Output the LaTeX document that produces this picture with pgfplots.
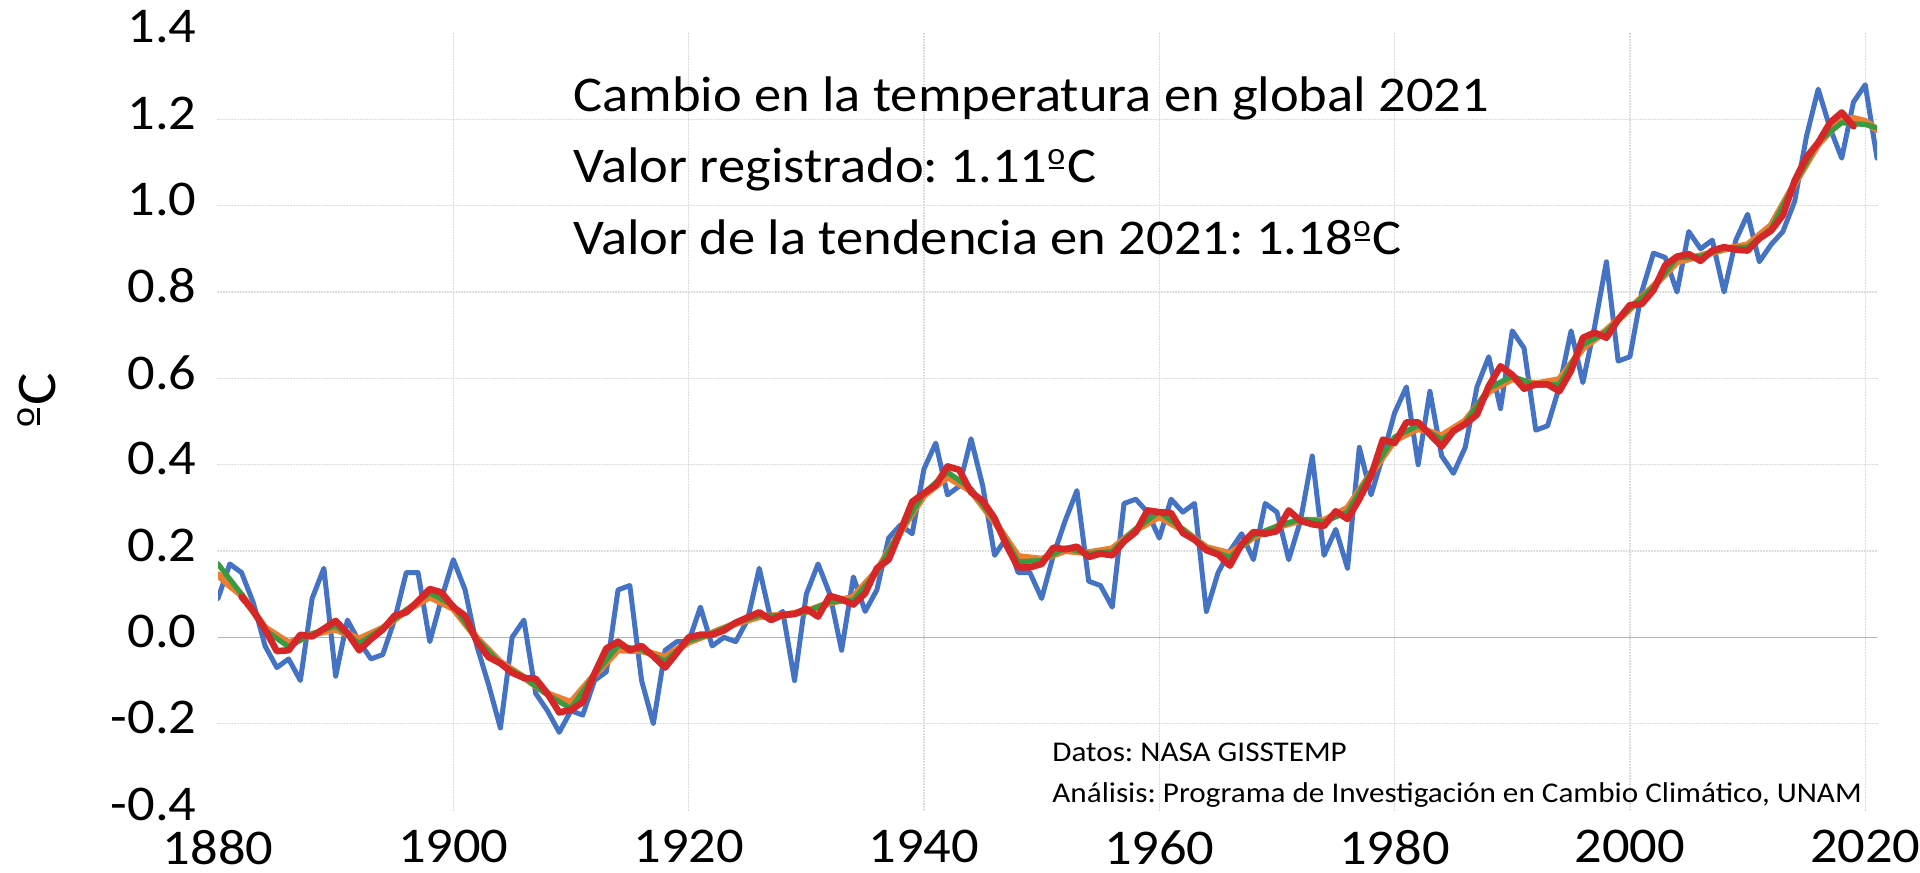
\documentclass[border=0pt]{standalone}
\usepackage{fontspec}
\setmainfont{Carlito}[FakeStretch=1.09]
\usepackage{pgfplots}
\pgfplotsset{compat=1.18}
\newcommand{\ord}{\mbox{\rlap{\kern0.04em\rule[0.27em]{0.3em}{0.055em}}\raisebox{0.37em}{\scalebox{0.62}{o}}\kern0.04em}}
\definecolor{cblue}{RGB}{68,114,196}
\definecolor{corange}{RGB}{237,125,49}
\definecolor{cgreen}{RGB}{58,154,64}
\definecolor{cred}{RGB}{214,38,40}
\definecolor{cgrid}{RGB}{215,215,215}
\definecolor{czero}{RGB}{182,176,192}
\frenchspacing
\begin{document}
\begin{tikzpicture}
\useasboundingbox (0,0) rectangle (960pt,436pt);
\begin{axis}[
  at={(109pt,31pt)}, anchor=south west,
  scale only axis, width=829.5pt, height=388.5pt,
  xmin=1880, xmax=2021, ymin=-0.4, ymax=1.4,
  axis line style={draw=none},
  major tick length=0pt,
  xtick={1880,1900,1920,1940,1960,1980,2000,2020},
  xticklabels={1880,1900,1920,1940,1960,1980,2000,2020},
  ytick={-0.4,-0.2,0,0.2,0.4,0.6,0.8,1.0,1.2,1.4},
  yticklabels={-0.4,-0.2,0.0,0.2,0.4,0.6,0.8,1.0,1.2,1.4},
  tick label style={font=\fontsize{25}{30}\selectfont},
  xticklabel style={anchor=north, inner sep=0pt, yshift=-10pt},
  yticklabel style={anchor=east, inner sep=0pt, xshift=-10.5pt, yshift=3pt},
  extra x ticks={1900,1920,1940,1960,1980,2000,2020},
  extra x tick labels={},
  extra y ticks={-0.2,0.2,0.4,0.6,0.8,1.0,1.2},
  extra y tick labels={},
  extra tick style={grid=major},
  major grid style={color=cgrid, densely dotted, line width=0.6pt},
  line join=round, line cap=round,
]
\draw[czero, line width=0.8pt] (axis cs:1880,0) -- (axis cs:2021,0);

\addplot[cblue, line width=2.5pt, no marks] coordinates {
(1880,0.09)(1881,0.17)(1882,0.15)(1883,0.08)(1884,-0.02)(1885,-0.07)(1886,-0.05)(1887,-0.10)(1888,0.09)(1889,0.16)
(1890,-0.09)(1891,0.04)(1892,-0.01)(1893,-0.05)(1894,-0.04)(1895,0.04)(1896,0.15)(1897,0.15)(1898,-0.01)(1899,0.09)
(1900,0.18)(1901,0.11)(1902,-0.02)(1903,-0.11)(1904,-0.21)(1905,0.00)(1906,0.04)(1907,-0.13)(1908,-0.17)(1909,-0.22)
(1910,-0.17)(1911,-0.18)(1912,-0.10)(1913,-0.08)(1914,0.11)(1915,0.12)(1916,-0.10)(1917,-0.20)(1918,-0.03)(1919,-0.01)
(1920,-0.01)(1921,0.07)(1922,-0.02)(1923,0.00)(1924,-0.01)(1925,0.04)(1926,0.16)(1927,0.04)(1928,0.06)(1929,-0.10)
(1930,0.10)(1931,0.17)(1932,0.10)(1933,-0.03)(1934,0.14)(1935,0.06)(1936,0.11)(1937,0.23)(1938,0.26)(1939,0.24)
(1940,0.39)(1941,0.45)(1942,0.33)(1943,0.35)(1944,0.46)(1945,0.35)(1946,0.19)(1947,0.23)(1948,0.15)(1949,0.15)
(1950,0.09)(1951,0.19)(1952,0.27)(1953,0.34)(1954,0.13)(1955,0.12)(1956,0.07)(1957,0.31)(1958,0.32)(1959,0.29)
(1960,0.23)(1961,0.32)(1962,0.29)(1963,0.31)(1964,0.06)(1965,0.15)(1966,0.20)(1967,0.24)(1968,0.18)(1969,0.31)
(1970,0.29)(1971,0.18)(1972,0.27)(1973,0.42)(1974,0.19)(1975,0.25)(1976,0.16)(1977,0.44)(1978,0.33)(1979,0.42)
(1980,0.52)(1981,0.58)(1982,0.40)(1983,0.57)(1984,0.42)(1985,0.38)(1986,0.44)(1987,0.58)(1988,0.65)(1989,0.53)
(1990,0.71)(1991,0.67)(1992,0.48)(1993,0.49)(1994,0.58)(1995,0.71)(1996,0.59)(1997,0.72)(1998,0.87)(1999,0.64)
(2000,0.65)(2001,0.80)(2002,0.89)(2003,0.88)(2004,0.80)(2005,0.94)(2006,0.90)(2007,0.92)(2008,0.80)(2009,0.92)
(2010,0.98)(2011,0.87)(2012,0.91)(2013,0.94)(2014,1.01)(2015,1.16)(2016,1.27)(2017,1.18)(2018,1.11)(2019,1.24)
(2020,1.28)(2021,1.11)
};

\addplot[corange, line width=3.5pt, no marks] coordinates {
(1880,0.145)(1881,0.120)(1882,0.098)(1884,0.022)(1886,-0.013)(1888,0.007)(1890,0.019)(1892,-0.004)(1894,0.021)(1896,0.062)(1898,0.094)
(1900,0.067)(1902,-0.002)(1904,-0.058)(1906,-0.093)(1908,-0.131)(1910,-0.151)(1912,-0.087)(1914,-0.029)(1916,-0.031)(1918,-0.046)
(1920,-0.011)(1922,0.010)(1924,0.032)(1926,0.048)(1928,0.051)(1930,0.060)(1932,0.080)(1934,0.093)(1936,0.154)(1938,0.245)
(1940,0.329)(1942,0.372)(1944,0.340)(1946,0.268)(1948,0.187)(1950,0.181)(1952,0.201)(1954,0.196)(1956,0.205)(1958,0.249)
(1960,0.280)(1962,0.249)(1964,0.208)(1966,0.194)(1968,0.232)(1970,0.256)(1972,0.271)(1974,0.271)(1976,0.299)(1978,0.380)
(1980,0.457)(1982,0.484)(1984,0.467)(1986,0.501)(1988,0.570)(1990,0.599)(1992,0.587)(1994,0.597)(1996,0.670)(1998,0.711)
(2000,0.761)(2002,0.813)(2004,0.870)(2006,0.884)(2008,0.899)(2010,0.909)(2012,0.954)(2014,1.051)(2016,1.143)(2018,1.200)
(2019,1.202)(2020,1.195)(2021,1.176)
};

\addplot[cgreen, line width=2.6pt, no marks] coordinates {
(1880,0.170)(1881,0.135)(1882,0.100)(1884,0.017)(1886,-0.022)(1888,0.008)(1890,0.027)(1892,-0.014)(1894,0.021)(1896,0.063)(1898,0.103)
(1900,0.074)(1902,-0.004)(1904,-0.062)(1906,-0.092)(1908,-0.133)(1910,-0.165)(1912,-0.086)(1914,-0.019)(1916,-0.029)(1918,-0.055)
(1920,-0.008)(1922,0.009)(1924,0.033)(1926,0.051)(1928,0.050)(1930,0.059)(1932,0.082)(1934,0.086)(1936,0.151)(1938,0.247)
(1940,0.334)(1942,0.383)(1944,0.344)(1946,0.271)(1948,0.175)(1950,0.178)(1952,0.207)(1954,0.194)(1956,0.199)(1958,0.251)
(1960,0.291)(1962,0.250)(1964,0.206)(1966,0.185)(1968,0.236)(1970,0.257)(1972,0.274)(1974,0.268)(1976,0.290)(1978,0.382)
(1980,0.464)(1982,0.491)(1984,0.458)(1986,0.496)(1988,0.577)(1990,0.605)(1992,0.584)(1994,0.586)(1996,0.678)(1998,0.708)
(2000,0.762)(2002,0.811)(2004,0.879)(2006,0.882)(2008,0.901)(2010,0.904)(2012,0.947)(2014,1.052)(2016,1.149)(2018,1.192)
(2019,1.190)(2020,1.188)(2021,1.180)
};

\addplot[cred, line width=3.3pt, no marks] coordinates {
(1882,0.094)(1883,0.062)(1884,0.018)(1885,-0.032)(1886,-0.030)(1887,0.006)(1888,0.002)(1889,0.020)
(1890,0.038)(1891,0.010)(1892,-0.030)(1893,-0.004)(1894,0.018)(1895,0.050)(1896,0.058)(1897,0.084)(1898,0.112)(1899,0.104)
(1900,0.070)(1901,0.050)(1902,-0.010)(1903,-0.046)(1904,-0.060)(1905,-0.082)(1906,-0.094)(1907,-0.096)(1908,-0.130)(1909,-0.174)
(1910,-0.168)(1911,-0.150)(1912,-0.084)(1913,-0.026)(1914,-0.010)(1915,-0.030)(1916,-0.020)(1917,-0.044)(1918,-0.070)(1919,-0.036)
(1920,0.000)(1921,0.006)(1922,0.006)(1923,0.016)(1924,0.034)(1925,0.046)(1926,0.058)(1927,0.040)(1928,0.052)(1929,0.054)
(1930,0.066)(1931,0.048)(1932,0.096)(1933,0.088)(1934,0.076)(1935,0.102)(1936,0.160)(1937,0.180)(1938,0.246)(1939,0.314)
(1940,0.334)(1941,0.352)(1942,0.396)(1943,0.388)(1944,0.336)(1945,0.316)(1946,0.276)(1947,0.214)(1948,0.162)(1949,0.162)
(1950,0.170)(1951,0.208)(1952,0.204)(1953,0.210)(1954,0.186)(1955,0.194)(1956,0.190)(1957,0.222)(1958,0.244)(1959,0.294)
(1960,0.290)(1961,0.288)(1962,0.242)(1963,0.226)(1964,0.202)(1965,0.192)(1966,0.166)(1967,0.216)(1968,0.244)(1969,0.240)
(1970,0.246)(1971,0.294)(1972,0.270)(1973,0.262)(1974,0.258)(1975,0.292)(1976,0.274)(1977,0.320)(1978,0.374)(1979,0.458)
(1980,0.450)(1981,0.498)(1982,0.498)(1983,0.470)(1984,0.442)(1985,0.478)(1986,0.494)(1987,0.516)(1988,0.582)(1989,0.628)
(1990,0.608)(1991,0.576)(1992,0.586)(1993,0.586)(1994,0.570)(1995,0.618)(1996,0.694)(1997,0.706)(1998,0.694)(1999,0.736)
(2000,0.770)(2001,0.772)(2002,0.804)(2003,0.862)(2004,0.882)(2005,0.888)(2006,0.872)(2007,0.896)(2008,0.904)(2009,0.898)
(2010,0.896)(2011,0.924)(2012,0.942)(2013,0.978)(2014,1.058)(2015,1.112)(2016,1.146)(2017,1.192)(2018,1.216)(2019,1.184)
};
\end{axis}

\node[rotate=90, inner sep=0pt, font=\fontsize{28}{32}\selectfont] at (18.5pt,236pt) {\ord C};

\begin{scope}[every node/.style={anchor=base west, inner sep=0pt, font=\fontsize{25}{30}\selectfont}]
\node at (286.5pt,380pt) {Cambio en la temperatura en global 2021};
\node at (286.5pt,344.5pt) {Valor registrado: 1.11\ord C};
\node at (286.5pt,308.5pt) {Valor de la tendencia en 2021: 1.18\ord C};
\end{scope}
\begin{scope}[every node/.style={anchor=base west, inner sep=0pt, font=\fontsize{14.3}{17}\selectfont}]
\node at (526pt,55pt) {Datos: NASA GISSTEMP};
\node at (526pt,34.5pt) {Análisis: Programa de Investigación en Cambio Climático, UNAM};
\end{scope}
\end{tikzpicture}
\end{document}
